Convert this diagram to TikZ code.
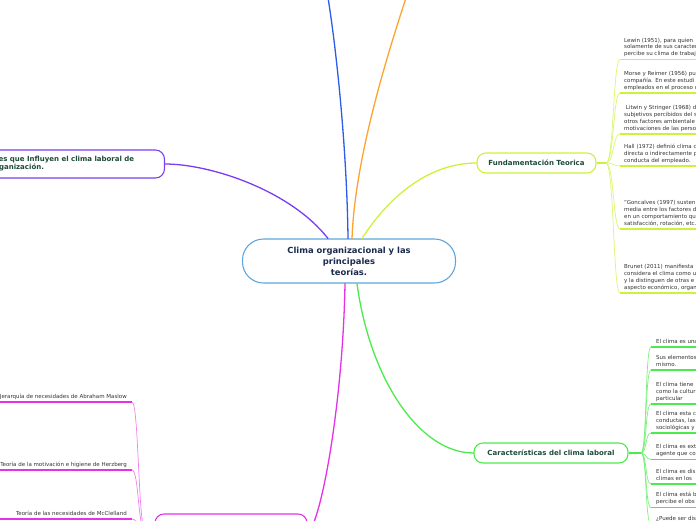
\documentclass[tikz,border=0pt]{standalone}
\usepackage{fontspec}
\setmainfont{DejaVu Sans}
\usetikzlibrary{positioning}
\definecolor{mmBlue}{HTML}{2C5CE8}
\definecolor{mmOrange}{HTML}{FFA330}
\definecolor{mmLime}{HTML}{CCF23A}
\definecolor{mmLimeLt}{HTML}{DAF76A}
\definecolor{mmGreen}{HTML}{4CEB4C}
\definecolor{mmGreenLt}{HTML}{7CF07C}
\definecolor{mmPurple}{HTML}{7B3DF2}
\definecolor{mmMagenta}{HTML}{E632E6}
\definecolor{mmMagentaLt}{HTML}{F080F0}
\definecolor{hubBdr}{HTML}{5EA6DB}
\definecolor{titleTx}{HTML}{1B2A4E}
\definecolor{topicTx}{HTML}{1D4A3B}
\definecolor{leafTx}{HTML}{333333}
\tikzset{
  root/.style={draw=hubBdr, line width=1.1pt, fill=white, rounded corners=21pt,
    minimum width=213pt, minimum height=44pt, align=center, text=titleTx,
    font=\fontsize{8.4}{11}\selectfont\bfseries},
  topic/.style={line width=1.1pt, fill=white, rounded corners=9pt, minimum height=20pt,
    align=left, text=topicTx, font=\fontsize{7}{8}\selectfont\bfseries},
  leaf/.style={anchor=south west, inner xsep=0pt, inner ysep=1.5pt, align=left,
    text=leafTx, font=\fontsize{5.5}{6.8}\selectfont, execute at end node=\strut},
  leafR/.style={leaf, anchor=south east, align=right},
  branch/.style={line width=1.3pt, line cap=round},
  twig/.style={line width=0.7pt},
  uline/.style={line width=1.2pt},
  stub/.style={line width=2.2pt},
}
\def\fundX{624}
\def\caracX{656}
\def\teoX{127}

\begin{document}
\begin{tikzpicture}[x=1pt, y=-1pt]
\useasboundingbox (0,0) rectangle (696,520);
\clip (0,0) rectangle (696,520);

% ── central topic and main topics ────────────────────────────────────────────
\node[root] (clima) at (349,261) {Clima organizacional y las\\principales\\teorías.};
\node[topic, draw=mmLime, minimum width=119pt] (fund) at (536.5,163) {Fundamentación Teorica};
\node[topic, draw=mmGreen, minimum width=154pt] (carac) at (551,453) {Características del clima laboral};
\node[topic, draw=mmPurple, minimum width=221pt, minimum height=28pt, anchor=east] (factores) at (165,164)
  {Factores que Influyen el clima laboral de\\una organización.};
\node[topic, draw=mmMagenta, minimum width=152pt, minimum height=40pt] (teorias) at (231,534) {};

% branches leaving the canvas
\coordinate (upBlue) at (325,-20);
\coordinate (upOrange) at (412,-20);
% hubs where the sub-topics fan out
\coordinate (fundHub) at (606,163);
\coordinate (caracHub) at (641,453);
\coordinate (teoHub) at (146,534);

% ── main branches ────────────────────────────────────────────────────────────
\draw[branch, mmBlue] ([xshift=-1pt]clima.north) .. controls (347,150) and (336,40) .. (upBlue);
\draw[branch, mmOrange] ([xshift=3pt]clima.north) .. controls (355,160) and (385,60) .. (upOrange);
\draw[branch, mmLime] ([xshift=13pt]clima.north) .. controls (390,195) and (430,163) .. (fund.west);
\draw[branch, mmPurple] ([xshift=-21pt]clima.north) .. controls (290,190) and (210,164) .. (factores.east);
\draw[branch, mmMagenta] ([xshift=-4pt]clima.south) .. controls (343,400) and (322,520) .. (teorias.east);
\draw[branch, mmGreen] ([xshift=8pt]clima.south) .. controls (370,380) and (420,453) .. (carac.west);

\draw[stub, mmLime] (fund.east) -- (fundHub);
\draw[stub, mmGreen] (carac.east) -- (caracHub);
\draw[stub, mmMagenta] (teorias.west) -- (teoHub);

% ── Fundamentación Teorica ───────────────────────────────────────────────────
\node[leaf] (lewin) at (\fundX,59.5) {Lewin (1951), para quien\\solamente de sus caracter\\percibe su clima de trabaj};
\node[leaf] (morse) at (\fundX,93) {Morse y Reimer (1956) pu\\compañía. En este estudi\\empleados en el proceso d};
\node[leaf] (litwin) at (\fundX,134) {\ Litwin y Stringer (1968) d\\subjetivos percibidos del s\\otros factores ambientale\\motivaciones de las perso};
\node[leaf] (hall) at (\fundX,166) {Hall (1972) definió clima c\\directa o indirectamente p\\conducta del empleado.};
\node[leaf] (goncalves) at (\fundX,229) {“Goncalves (1997) susten\\media entre los factores d\\en un comportamiento qu\\satisfacción, rotación, etc.};
\node[leaf] (brunet) at (\fundX,293) {Brunet (2011) manifiesta\\considera el clima como u\\y la distinguen de otras e\\aspecto económico, organ};
\foreach \lf in {lewin,morse,litwin,hall,goncalves,brunet} {
  \draw[twig, mmLimeLt] (fundHub) .. controls +(8,0) and +(-7,0) .. ([xshift=-4pt]\lf.south west);
  \draw[uline, mmLime] ([xshift=-4pt]\lf.south west) -- ++(80,0);
}

% ── Características del clima laboral ────────────────────────────────────────
\node[leaf] (c1) at (\caracX,347) {El clima es una};
\node[leaf] (c2) at (\caracX,370) {Sus elementos\\mismo.};
\node[leaf] (c3) at (\caracX,404) {El clima tiene\\como la cultur\\particular};
\node[leaf] (c4) at (\caracX,433) {El clima esta c\\conductas, las\\sociológicas y};
\node[leaf] (c5) at (\caracX,459.5) {El clima es ext\\agente que co};
\node[leaf] (c6) at (\caracX,484) {El clima es dis\\climas en los};
\node[leaf] (c7) at (\caracX,507.5) {El clima está b\\percibe el obs};
\node[leaf] (c8) at (\caracX,524) {¿Puede ser dis};
\foreach \i in {1,...,8} {
  \draw[twig, mmGreenLt] (caracHub) .. controls +(6,0) and +(-6,0) .. ([xshift=-5pt]c\i.south west);
  \draw[uline, mmGreen] ([xshift=-5pt]c\i.south west) -- ++(50,0);
}

% ── theories (bottom) ────────────────────────────────────────────────────────
\node[leafR] (maslow) at (\teoX,402) {Jerarquía de necesidades de Abraham Maslow};
\node[leafR] (herzberg) at (\teoX,470) {Teoría de la motivación e higiene de Herzberg};
\node[leafR] (mcclelland) at (\teoX,519) {Teoría de las necesidades de McClelland};
\foreach \lf in {maslow,herzberg,mcclelland} {
  \draw[twig, mmMagentaLt] (teoHub) .. controls +(-8,0) and +(7,0) .. ([xshift=5pt]\lf.south east);
  \draw[uline, mmMagenta] ([xshift=5pt]\lf.south east) -- ++(-150,0);
}

\end{tikzpicture}
\end{document}
